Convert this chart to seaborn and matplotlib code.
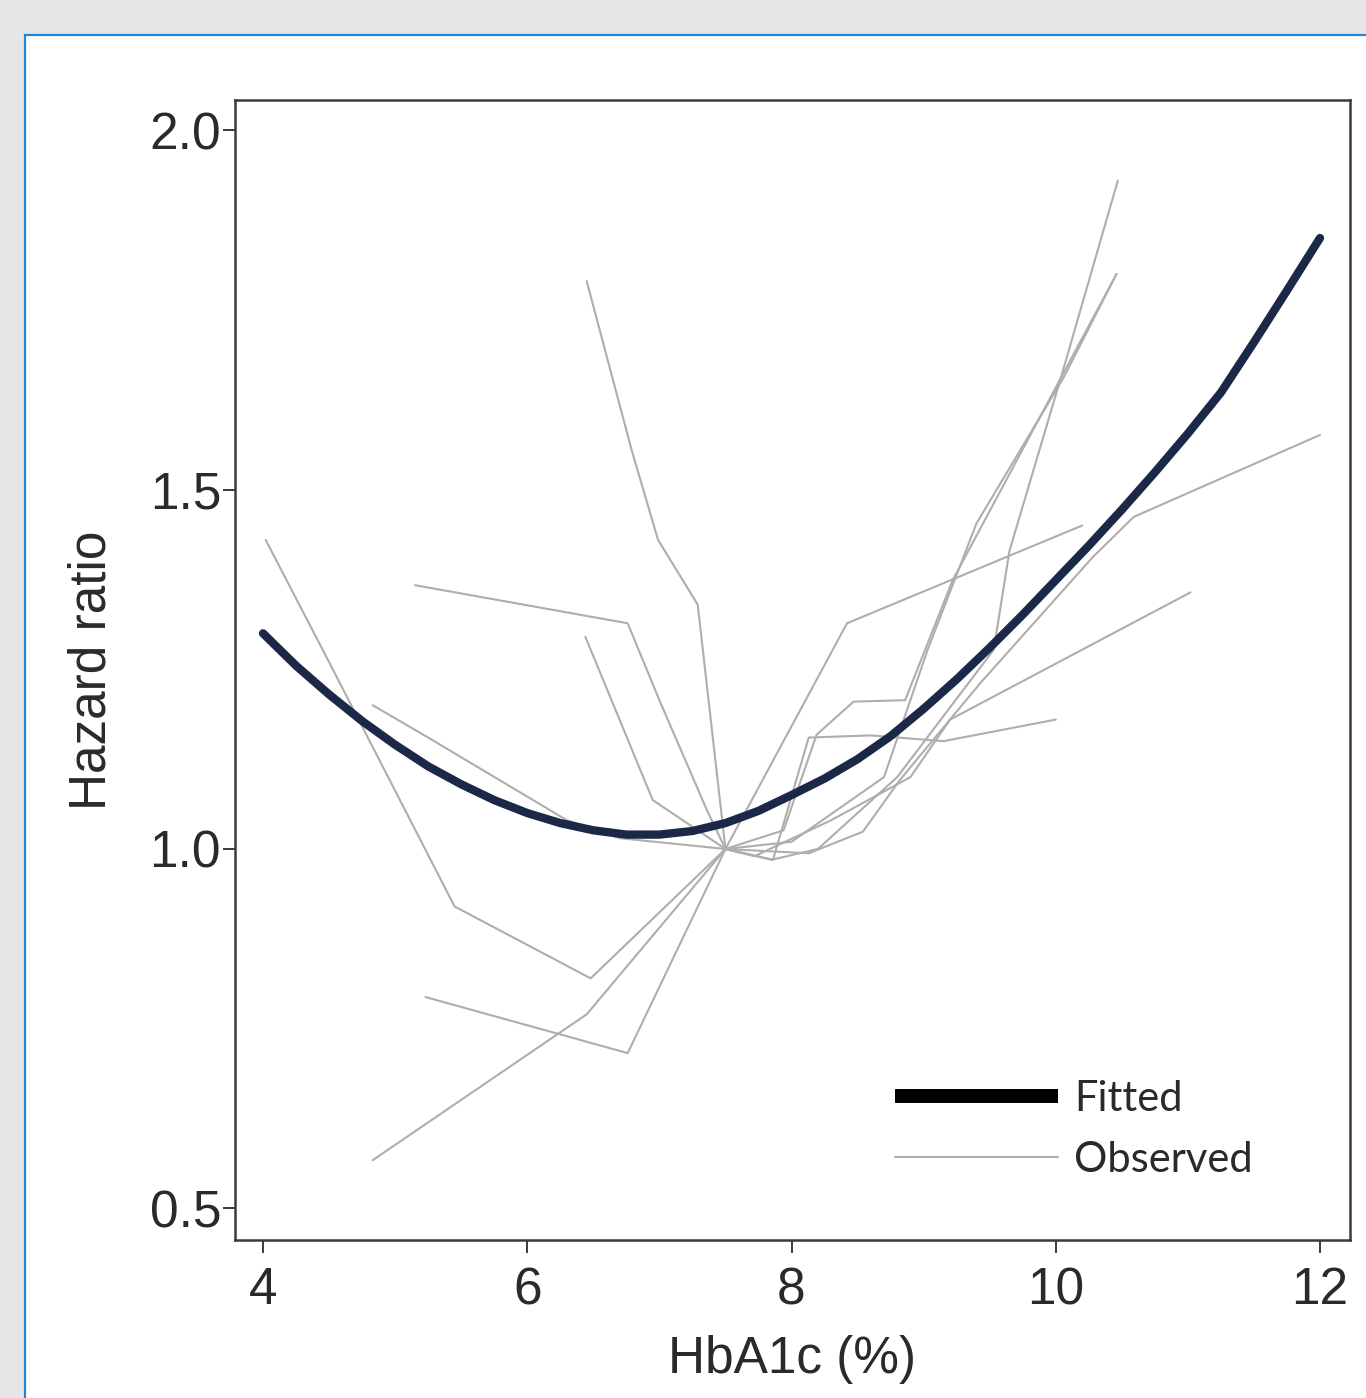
import pandas as pd
import matplotlib.pyplot as plt
import seaborn as sns
import numpy as np
from matplotlib.patches import Rectangle
from matplotlib.lines import Line2D

# Fitted curve
fit_x = [4.0, 4.25, 4.5, 4.75, 5.0, 5.25, 5.5, 5.75, 6.0, 6.25, 6.5, 6.75, 7.0, 7.25, 7.5, 7.75,
         8.0, 8.25, 8.5, 8.75, 9.0, 9.25, 9.5, 9.75, 10.0, 10.25, 10.5, 10.75, 11.0, 11.25, 11.5, 11.75, 12.0]
fit_hr = [1.300, 1.255, 1.215, 1.178, 1.145, 1.115, 1.090, 1.068, 1.050, 1.036, 1.026, 1.020, 1.020, 1.025,
          1.036, 1.053, 1.075, 1.098, 1.125, 1.157, 1.195, 1.236, 1.280, 1.326, 1.374, 1.422, 1.472,
          1.524, 1.578, 1.635, 1.705, 1.777, 1.850]

# Observed curves, one per study (all pass through 7.5 / 1.0)
study1_x = [6.45, 6.79, 6.99, 7.29, 7.5, 7.85, 8.2, 8.8, 9.53, 9.65, 10.03, 10.47]
study1_hr = [1.79, 1.555, 1.43, 1.34, 1.0, 0.985, 1.0, 1.10, 1.277, 1.415, 1.65, 1.93]
study2_x = [5.15, 6.76, 7.0, 7.36, 7.5, 8.42, 10.2]
study2_hr = [1.367, 1.314, 1.207, 1.054, 1.0, 1.314, 1.45]
study3_x = [6.44, 6.95, 7.5, 8.13, 8.54, 8.82, 9.43, 10.28, 10.59, 12.0]
study3_hr = [1.295, 1.068, 1.0, 0.994, 1.024, 1.096, 1.231, 1.406, 1.462, 1.576]
study4_x = [4.02, 4.5, 5.45, 6.48, 7.5, 7.72, 8.3, 8.9, 9.2, 11.02]
study4_hr = [1.43, 1.26, 0.92, 0.82, 1.0, 0.99, 1.04, 1.10, 1.18, 1.357]
study5_x = [4.83, 5.25, 6.3, 6.7, 7.5, 7.86, 8.13, 8.6, 9.15, 10.0]
study5_hr = [1.20, 1.155, 1.04, 1.015, 1.0, 0.985, 1.155, 1.158, 1.15, 1.18]
study6_x = [5.23, 6.76, 7.5, 7.94, 8.19, 8.47, 8.86, 9.22, 10.46]
study6_hr = [0.794, 0.716, 1.0, 1.026, 1.159, 1.205, 1.207, 1.374, 1.80]
study7_x = [4.83, 6.45, 7.5, 8.0, 8.7, 9.03, 9.40, 10.06, 10.46]
study7_hr = [0.567, 0.77, 1.0, 1.01, 1.10, 1.277, 1.453, 1.656, 1.80]

x_ticks = [4, 6, 8, 10, 12]
y_ticks = [0.5, 1.0, 1.5, 2.0]

studies = [(study1_x, study1_hr), (study2_x, study2_hr), (study3_x, study3_hr),
           (study4_x, study4_hr), (study5_x, study5_hr), (study6_x, study6_hr),
           (study7_x, study7_hr)]
obs_df = pd.concat([pd.DataFrame({"HbA1c": sx, "HR": sy, "study": i})
                    for i, (sx, sy) in enumerate(studies)], ignore_index=True)
fit_df = pd.DataFrame({"HbA1c": fit_x, "HR": fit_hr})

sns.set_style("white")
plt.rcParams['font.family'] = ['Liberation Sans', 'DejaVu Sans']

fig = plt.figure(figsize=(13.66, 13.98), dpi=100)
fig.patch.set_facecolor("#e6e6e6")
# white panel with blue frame (behind the axes)
fig.patches.append(Rectangle((25 / 1366, -0.2), 1.2, 1.2 - 35 / 1398, transform=fig.transFigure,
                             facecolor="white", edgecolor="#1f86e0", linewidth=1.6, zorder=-5))

ax = fig.add_axes([235 / 1366, 1 - 1240 / 1398, (1350 - 235) / 1366, (1240 - 100) / 1398])
ax.set_facecolor("white")

grey = "#b0adab"
sns.lineplot(data=obs_df, x="HbA1c", y="HR", units="study", estimator=None,
             color=grey, linewidth=1.5, ax=ax, zorder=2)
sns.lineplot(data=fit_df, x="HbA1c", y="HR", color="#1b2847", linewidth=6,
             ax=ax, zorder=3, solid_capstyle="round")

ax.set_xlim(3.788, 12.227)
ax.set_ylim(0.456, 2.042)
ax.set_xticks(x_ticks)
ax.set_xticklabels([str(t) for t in x_ticks])
ax.set_yticks(y_ticks)
ax.set_yticklabels([f"{t:.1f}" for t in y_ticks])

for s in ax.spines.values():
    s.set_color("#3a3a3a")
    s.set_linewidth(1.8)
    s.set_visible(True)
ax.tick_params(axis="both", which="both", direction="out", length=9, width=1.4,
               color="#3a3a3a", labelsize=37, labelcolor="#2a2a2a", left=True, bottom=True)
ax.tick_params(axis="y", pad=1)
ax.tick_params(axis="x", pad=10)

ax.set_xlabel("HbA1c (%)", fontsize=37, color="#2a2a2a", labelpad=14)
ax.set_ylabel("Hazard ratio", fontsize=37, color="#2a2a2a", labelpad=24)

handles = [Line2D([0], [0], color="black", linewidth=10, solid_capstyle="butt"),
           Line2D([0], [0], color=grey, linewidth=1.5)]
leg = ax.legend(handles, ["Fitted", "Observed"], loc="upper left",
                bbox_to_anchor=((895 - 235) / 1115, (1240 - 1080) / 1140),
                frameon=False, handlelength=3.9, handletextpad=0.4,
                labelspacing=0.55, borderpad=0, borderaxespad=0,
                prop={"family": ["Lato", "DejaVu Sans"], "size": 30})
for t in leg.get_texts():
    t.set_color("#2a2a2a")

fig.savefig("out.png", dpi=100, facecolor=fig.get_facecolor())
